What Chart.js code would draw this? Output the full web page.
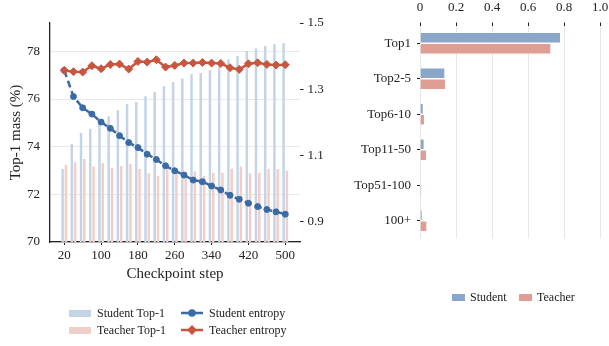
<!DOCTYPE html>
<html>
<head>
<meta charset="utf-8">
<script src="https://cdn.jsdelivr.net/npm/chart.js@4.4.1/dist/chart.umd.min.js"></script>
<style>
  html, body { margin: 0; padding: 0; background: #fff; }
  #wrap { position: relative; width: 609px; height: 346px; overflow: hidden;
          font-family: 'Liberation Serif', 'Times New Roman', serif; color: #222; }
  .pane { position: absolute; top: 0; }
  .lg { position: absolute; display: flex; align-items: center; height: 14px;
        font-size: 12px; line-height: 14px; white-space: nowrap; }
  .sw { display: inline-block; flex: none; }
</style>
</head>
<body>
<div id="wrap">
  <div class="pane" style="left:0"><canvas id="left" width="340" height="346"></canvas></div>
  <div class="pane" style="left:340px"><canvas id="right" width="269" height="346"></canvas></div>

  <div class="lg" style="left:69px;top:306px"><span class="sw" style="width:22px;height:7px;background:#c4d4e6"></span><span style="margin-left:6px">Student Top-1</span></div>
  <div class="lg" style="left:69px;top:323px"><span class="sw" style="width:22px;height:7px;background:#f2cec9"></span><span style="margin-left:6px">Teacher Top-1</span></div>
  <div class="lg" style="left:181px;top:306px"><svg class="sw" width="22" height="12"><line x1="0" y1="6" x2="22" y2="6" stroke="#3b6ba5" stroke-width="2.5"/><circle cx="11" cy="6" r="3.8" fill="#3b6ba5"/></svg><span style="margin-left:6px">Student entropy</span></div>
  <div class="lg" style="left:181px;top:323px"><svg class="sw" width="22" height="12"><line x1="0" y1="6" x2="22" y2="6" stroke="#c8553d" stroke-width="2.5"/><polygon points="11,1 16,6 11,11 6,6" fill="#c8553d"/></svg><span style="margin-left:6px">Teacher entropy</span></div>

  <div class="lg" style="left:452px;top:290px"><span class="sw" style="width:13px;height:7px;background:#8aa6c8"></span><span style="margin-left:5px">Student</span></div>
  <div class="lg" style="left:519px;top:290px"><span class="sw" style="width:13px;height:7px;background:#e09d94"></span><span style="margin-left:5px">Teacher</span></div>
</div>
<script>
// left panel: top-1 mass per checkpoint + entropy
const steps = [20, 40, 60, 80, 100, 120, 140, 160, 180, 200, 220, 240, 260,
               280, 300, 320, 340, 360, 380, 400, 420, 440, 460, 480, 500];
const studentTop1 = [73.06, 74.11, 74.57, 74.75, 74.95, 75.28, 75.53, 75.79, 75.88, 76.12, 76.29, 76.54, 76.71,
                     76.86, 77.04, 77.09, 77.21, 77.40, 77.66, 77.80, 78.01, 78.12, 78.23, 78.30, 78.34];
const teacherTop1 = [73.23, 73.35, 73.48, 73.17, 73.30, 73.12, 73.19, 73.27, 73.06, 72.89, 72.78, 73.05, 72.92,
                     72.95, 72.96, 72.78, 72.91, 72.91, 73.07, 73.17, 72.88, 72.91, 73.07, 73.06, 72.99];
const studentEntropy = [1.357, 1.278, 1.244, 1.225, 1.201, 1.182, 1.160, 1.139, 1.124, 1.104, 1.088, 1.069, 1.054,
                        1.041, 1.026, 1.021, 1.008, 0.996, 0.980, 0.968, 0.956, 0.946, 0.937, 0.930, 0.923];
const teacherEntropy = [1.357, 1.353, 1.352, 1.371, 1.362, 1.375, 1.376, 1.361, 1.384, 1.382, 1.389, 1.367, 1.372,
                        1.379, 1.379, 1.381, 1.379, 1.378, 1.365, 1.360, 1.377, 1.380, 1.375, 1.373, 1.374];
const stepTicks = [20, 100, 180, 260, 340, 420, 500];
const massTicks = [70, 72, 74, 76, 78];
const entropyTicks = [0.9, 1.1, 1.3, 1.5];

// right panel: probability mass by rank bucket
const buckets = ['Top1', 'Top2-5', 'Top6-10', 'Top11-50', 'Top51-100', '100+'];
const studentMass = [0.782, 0.139, 0.019, 0.024, 0.002, 0.013];
const teacherMass = [0.728, 0.143, 0.026, 0.037, 0.009, 0.039];
const shareTicks = [0, 0.2, 0.4, 0.6, 0.8, 1.0];

const INK = '#222';
const BLUE = '#3b6ba5';
const RED = '#c8553d';

Chart.defaults.font.family = "'Liberation Serif', 'Times New Roman', serif";
Chart.defaults.font.size = 13;
Chart.defaults.color = INK;

const pts = ys => steps.map((s, i) => ({ x: s, y: ys[i] }));
const fixTicks = vals => scale => { scale.ticks = vals.map(v => ({ value: v })); };
// size a scale box exactly and drop the label overflow padding
const boxH = h => s => { s.height = h; s.paddingLeft = 0; s.paddingRight = 0; };
const boxW = w => s => { s.width = w; s.paddingTop = 0; s.paddingBottom = 0; };

new Chart(document.getElementById('left'), {
	type: 'bar',
	data: {
		datasets: [
			{
				type: 'line', label: 'Teacher entropy', data: pts(teacherEntropy), yAxisID: 'yE', order: 0,
				borderColor: RED, backgroundColor: RED, borderWidth: 2.5,
				pointStyle: 'rectRot', pointRadius: 4, pointBorderWidth: 1,
			},
			{
				type: 'line', label: 'Student entropy', data: pts(studentEntropy), yAxisID: 'yE', order: 1,
				borderColor: BLUE, backgroundColor: BLUE, borderWidth: 2.5, borderDash: [7, 4],
				pointRadius: 3, pointBorderWidth: 1,
			},
			{ label: 'Student Top-1', data: pts(studentTop1), yAxisID: 'yM', order: 2, backgroundColor: '#c4d4e6' },
			{ label: 'Teacher Top-1', data: pts(teacherTop1), yAxisID: 'yM', order: 3, backgroundColor: '#f2cec9' },
		],
	},
	options: {
		responsive: false,
		animation: false,
		categoryPercentage: 0.72,
		barPercentage: 0.75,
		layout: { padding: { top: 23, left: 0, right: 0, bottom: 0 } },
		plugins: { legend: { display: false }, tooltip: { enabled: false } },
		scales: {
			x: {
				type: 'linear', min: -11, max: 532, offset: false,
				afterBuildTicks: fixTicks(stepTicks),
				afterFit: boxH(104),
				grid: { offset: false, drawOnChartArea: false, tickLength: 3, tickColor: INK },
				border: { color: INK, width: 1.3 },
				ticks: { padding: 3 },
				title: { display: true, text: 'Checkpoint step', font: { size: 15 }, padding: { top: 0, bottom: 63 } },
			},
			yM: {
				position: 'left', min: 70, max: 79.19,
				afterBuildTicks: fixTicks(massTicks),
				afterFit: boxW(50),
				grid: { color: '#e8e8e8', drawTicks: false },
				border: { color: INK, width: 1.3 },
				ticks: { padding: 10 },
				title: { display: true, text: 'Top-1 mass (%)', font: { size: 15 }, padding: { top: 7, bottom: 0 } },
			},
			yE: {
				position: 'right', min: 0.839, max: 1.5,
				afterBuildTicks: fixTicks(entropyTicks),
				afterFit: boxW(40),
				grid: { drawOnChartArea: false, tickLength: 3.5, tickColor: INK },
				border: { display: false },
				ticks: { padding: 4, callback: v => v.toFixed(1) },
			},
		},
	},
});

new Chart(document.getElementById('right'), {
	type: 'bar',
	data: {
		labels: buckets,
		datasets: [
			{ label: 'Student', data: studentMass, backgroundColor: '#8aa6c8', borderColor: '#fff', borderWidth: 0.7 },
			{ label: 'Teacher', data: teacherMass, backgroundColor: '#e09d94', borderColor: '#fff', borderWidth: 0.7 },
		],
	},
	options: {
		indexAxis: 'y',
		responsive: false,
		animation: false,
		categoryPercentage: 0.62,
		barPercentage: 1,
		layout: { padding: { top: 0, left: 0, right: 9, bottom: 107.5 } },
		plugins: { legend: { display: false }, tooltip: { enabled: false } },
		scales: {
			x: {
				position: 'top', min: 0, max: 1,
				afterBuildTicks: fixTicks(shareTicks),
				afterFit: boxH(25.5),
				grid: { color: '#e6e6e6', tickColor: INK, tickLength: 3 },
				border: { display: false },
				ticks: { padding: 7.5, callback: v => (v === 0 ? '0' : v.toFixed(1)) },
			},
			y: {
				afterFit: boxW(80),
				grid: { offset: false, drawOnChartArea: false, tickColor: INK, tickLength: 3 },
				border: { display: false },
				ticks: { padding: 6 },
			},
		},
	},
});
</script>
</body>
</html>
